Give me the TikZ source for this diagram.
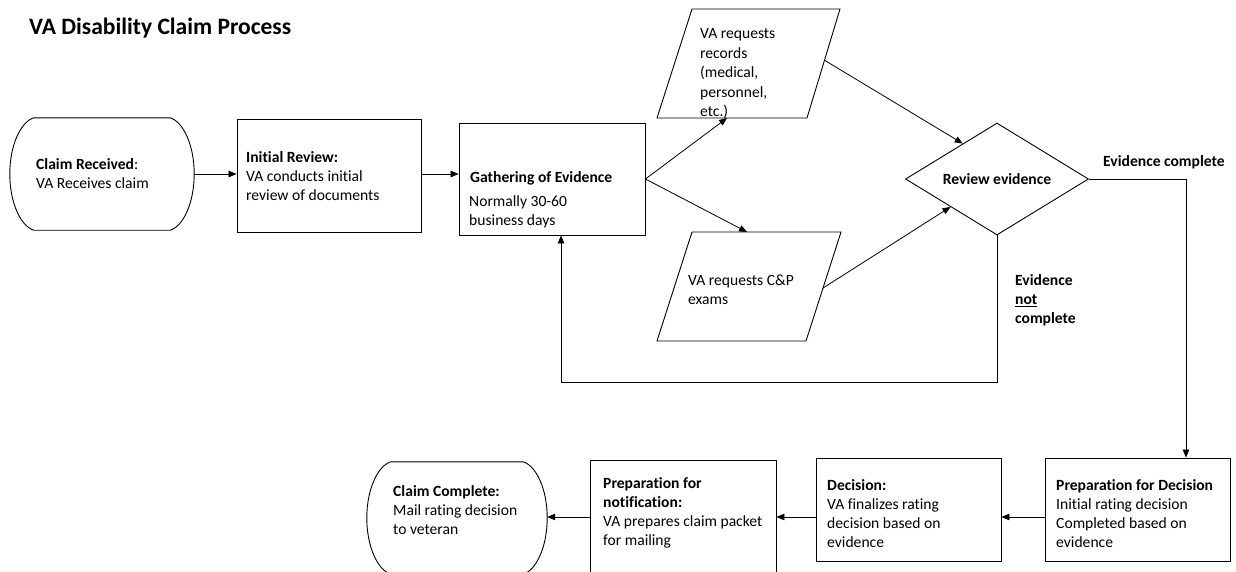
\documentclass[tikz,border=0pt]{standalone}
\usepackage{fontspec}
\setmainfont{Carlito}[Ligatures=NoCommon]
\usetikzlibrary{arrows.meta,calc,shapes.geometric}
\newcommand\termoutline[1]{%
 \draw[shapeline] ($(#1.north west)+(24,0)$) -- ($(#1.north east)+(-24,0)$)
   .. controls ($(#1.north east)+(-11,4)$) and ($(#1.east)+(0,-29)$) .. (#1.east)
   .. controls ($(#1.east)+(0,29)$) and ($(#1.south east)+(-11,-4)$) .. ($(#1.south east)+(-24,0)$)
   -- ($(#1.south west)+(24,0)$)
   .. controls ($(#1.south west)+(11,-4)$) and ($(#1.west)+(0,29)$) .. (#1.west)
   .. controls ($(#1.west)+(0,-29)$) and ($(#1.north west)+(11,4)$) .. cycle;}
\begin{document}
\begin{tikzpicture}[x=1pt,y=-1pt,
  shapeline/.style={line width=0.9pt,draw=black},
  boxnode/.style={draw,line width=0.9pt,inner sep=0pt},
  txt/.style={anchor=west,align=left,inner sep=0pt,font=\fontsize{15.6}{19}\selectfont},
  txtb/.style={txt,font=\fontsize{15.6}{19}\selectfont\bfseries},
  arr/.style={-{Triangle[length=8pt,width=6.5pt]},line width=0.8pt},
]
\useasboundingbox (0,0) rectangle (1236,571);
\fill[white] (0,0) rectangle (1236,571);
\clip (0,0) rectangle (1236,571);

% title
\node[anchor=west,inner sep=0pt,font=\fontsize{23.5}{28}\selectfont\bfseries] (title) at (29,28) {VA Disability Claim Process};

% top row
\node[inner sep=0pt,minimum width=184pt,minimum height=112pt] (recv) at (102,174) {};
\termoutline{recv}
\node[txt] (recvt) at (36,174) {\textbf{Claim Received}:\\VA Receives claim};

\node[boxnode,minimum width=184pt,minimum height=113pt] (init) at (329,175.5) {};
\node[txt] (initt) at (246,176) {\textbf{Initial Review:}\\VA conducts initial\\review of documents};

\node[boxnode,minimum width=186pt,minimum height=112pt] (gath) at (552,179) {};
\node[txtb] (gatht) at (470,178) {Gathering of Evidence};
\node[txt] (gathb) at (469,211.5) {Normally 30-60\\business days};

% records parallelogram
\coordinate (recTL) at (692,9);
\coordinate (recTR) at (840,9);
\coordinate (recBR) at (807,118);
\coordinate (recBL) at (657,118);
\draw[shapeline] (recTL) -- (recTR) -- (recBR) -- (recBL) -- cycle;
\node[txt,font=\fontsize{15.6}{19.5}\selectfont] (rect) at (700,74) {VA requests\\records\\(medical,\\personnel,\\etc.)};

% C&P parallelogram
\coordinate (cpTL) at (692,232);
\coordinate (cpTR) at (841,232);
\coordinate (cpBR) at (806,341);
\coordinate (cpBL) at (657,341);
\draw[shapeline] (cpTL) -- (cpTR) -- (cpBR) -- (cpBL) -- cycle;
\node[txt] (cpt) at (688,289.5) {VA requests C\&P\\exams};

% diamond
\node[diamond,boxnode,minimum width=183pt,minimum height=112pt] (rev) at (997,179) {};
\node[txtb,anchor=center] (revt) at (997,179) {Review evidence};

\node[txtb] (ecl) at (1103,162) {Evidence complete};
\node[txtb] (ncl) at (1015,300) {Evidence\\\underline{not}\\complete};

% bottom row
\node[boxnode,minimum width=185pt,minimum height=103pt] (prepd) at (1137.5,509.5) {};
\node[txt] (prepdt) at (1056,514) {\textbf{Preparation for Decision}\\Initial rating decision\\Completed based on\\evidence};

\node[boxnode,minimum width=185pt,minimum height=103pt] (dec) at (908.5,509.5) {};
\node[txt] (dect) at (827,514) {\textbf{Decision:}\\VA finalizes rating\\decision based on\\evidence};

\node[boxnode,minimum width=186pt,minimum height=116pt] (prepn) at (683,518) {};
\node[txt] (prepnt) at (603,512.5) {\textbf{Preparation for}\\\textbf{notification:}\\VA prepares claim packet\\for mailing};

\node[inner sep=0pt,minimum width=180pt,minimum height=112pt] (comp) at (457,518) {};
\termoutline{comp}
\node[txt] (compt) at (393,510) {\textbf{Claim Complete:}\\Mail rating decision\\to veteran};

% connectors
\coordinate (recIn) at ($(recBL)!0.467!(recBR)$);
\coordinate (recOut) at ($(recTR)!0.47!(recBR)$);
\coordinate (cpIn) at ($(cpTL)!0.369!(cpTR)$);
\coordinate (cpOut) at ($(cpTR)!0.514!(cpBR)$);
\coordinate (gin) at ($(gath.south)+(9,0)$);
\coordinate (pdin) at ($(prepd.north)+(48.5,0)$);
\coordinate (row) at (0,517);

\draw[arr] (recv.east) -- (init.west |- recv.east);
\draw[arr] (init.east |- recv.east) -- (gath.west |- recv.east);
\draw[arr] (gath.east) -- (recIn);
\draw[arr] (gath.east) -- (cpIn);
\draw[arr] (recOut) -- (rev.134);
\draw[arr] (cpOut) -- (rev.211);
\draw[arr] (rev.south) -- ++(0,147) -| (gin);
\draw[arr] (rev.east) -| (pdin);
\draw[arr] (prepd.west |- row) -- (dec.east |- row);
\draw[arr] (dec.west |- row) -- (prepn.east |- row);
\draw[arr] (prepn.west |- row) -- (comp.east |- row);
\end{tikzpicture}
\end{document}
